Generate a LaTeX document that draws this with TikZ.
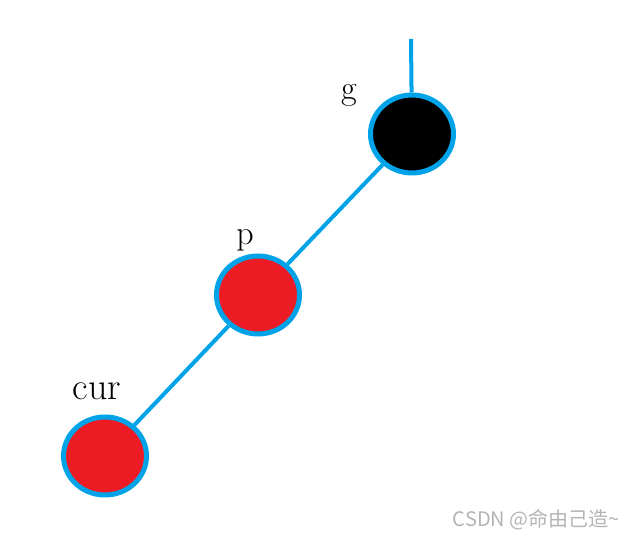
\documentclass[tikz,border=0pt]{standalone}
\usepackage{fontspec}
\newfontfamily\cjk{Noto Sans CJK SC}
\usetikzlibrary{shapes.geometric}
\definecolor{paintblue}{RGB}{0,162,232}
\definecolor{paintred}{RGB}{237,28,36}
\definecolor{marca}{RGB}{180,180,180}

\tikzset{
	no/.style = {ellipse, draw = paintblue, line width = 5pt, inner sep = 0pt, minimum width = 83pt, minimum height = 78pt},
	aresta/.style = {paintblue, line width = 4pt},
	rotulo/.style = {black, anchor = base, inner sep = 0pt}
}

\begin{document}
\begin{tikzpicture}[x = 1pt, y = 1pt]

	\useasboundingbox (0, 0) rectangle (633, 541);

	%%% NOS %%%

	\node[no, fill = black]    (g)   at (412, 407) {};
	\node[no, fill = paintred] (p)   at (258, 246) {};
	\node[no, fill = paintred] (cur) at (105,  85) {};

	\coordinate (topo) at (411, 502);

	%%% ARESTAS %%%

	\draw[aresta] (topo) -- (g);
	\draw[aresta] (g) -- (p);
	\draw[aresta] (p) -- (cur);

	%%% ROTULOS %%%

	\node[rotulo] (rg)   at (349, 441) {{\fontsize{34}{40}\selectfont g}};
	\node[rotulo] (rp)   at (245, 296) {{\fontsize{34}{40}\selectfont p}};
	\node[rotulo] (rcur) at ( 97, 141) {{\fontsize{38}{44}\selectfont cur}};

	\node[marca, anchor = base east, inner sep = 0pt] (csdn) at (620, 14) {{\cjk\fontsize{20}{22}\selectfont CSDN @命由己造\char"007E}};

\end{tikzpicture}
\end{document}
